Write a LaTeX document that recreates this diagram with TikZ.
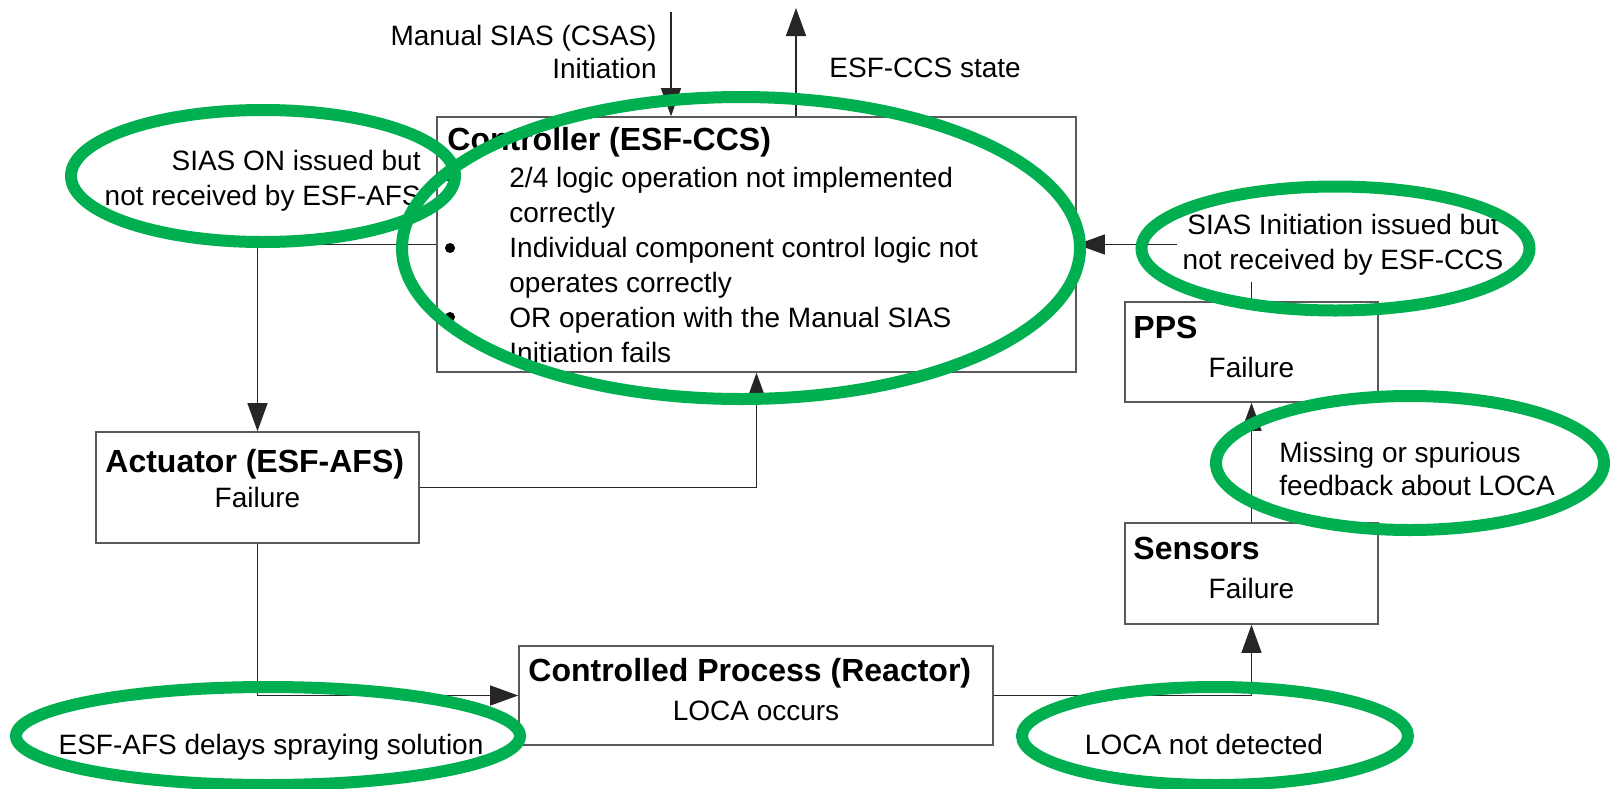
\documentclass[tikz,border=0pt]{standalone}
\usepackage{fontspec}
\setmainfont{Liberation Sans}
\usetikzlibrary{arrows.meta}
\definecolor{hlgreen}{RGB}{0,176,80}
\definecolor{boxgray}{RGB}{90,90,90}
\newcommand\regf{\fontsize{14}{17.5}\selectfont}
\newcommand\bldf{\fontsize{16}{20}\selectfont\bfseries}
\begin{document}
\begin{tikzpicture}[x=0.5pt,y=-0.5pt,
  box/.style={draw=boxgray,line width=0.8pt,rectangle,inner sep=0pt},
  conn/.style={draw=black!85,line width=0.6pt,-{Triangle[length=14pt,width=10pt]}},
  txt/.style={inner sep=0pt,font=\regf,text=black},
  ttl/.style={inner sep=0pt,font=\bldf,text=black,anchor=base west},
  bul/.style={circle,fill=black,inner sep=0pt,minimum size=5pt},
  hl/.style={draw=hlgreen,line width=6pt}]
\useasboundingbox (0,0) rectangle (1618,788);
\fill[white] (0,0) rectangle (1618,788);
% boxes
\node[box,minimum width=319.5pt,minimum height=127.5pt] (ctrl) at (756.5,244.5) {};
\node[box,minimum width=161.5pt,minimum height=55.5pt] (act) at (257.5,487.5) {};
\node[box,minimum width=237pt,minimum height=49.5pt] (cp) at (756,695.5) {};
\node[box,minimum width=126.5pt,minimum height=50pt] (pps) at (1251.5,352) {};
\node[box,minimum width=126.5pt,minimum height=50.5pt] (sens) at (1251.5,573.5) {};
% free ends
\coordinate (man) at (671,12);
\coordinate (st) at (796,8);
% connectors
\draw[conn] (man) -- (man |- ctrl.north);
\draw[conn] (ctrl.north -| st) -- (st);
\draw[conn] (ctrl.west) -| (act.north);
\draw[conn] (act.east) -| (ctrl.south);
\draw[conn] (act.south) |- (cp.west);
\draw[conn] (cp.east) -| (sens.south);
\draw[conn] (sens.north) -- (pps.south);
\draw[conn] (pps.north) |- (ctrl.east);
% texts
\node[txt,anchor=base east] (m1) at (657,45) {Manual SIAS (CSAS)};
\node[txt,anchor=base east] (m2) at (657,78) {Initiation};
\node[txt,anchor=base west] (s1) at (829,77) {ESF-CCS state};
\node[ttl] (ct) at (447,150) {Controller (ESF-CCS)};
\node[bul] (b1) at (450,177) {};
\node[bul] (b2) at (450,248) {};
\node[bul] (b3) at (450,317) {};
\node[txt,anchor=base west] (l1) at (509,187) {2/4 logic operation not implemented};
\node[txt,anchor=base west] (l2) at (509,222) {correctly};
\node[txt,anchor=base west] (l3) at (509,257) {Individual component control logic not};
\node[txt,anchor=base west] (l4) at (509,292) {operates correctly};
\node[txt,anchor=base west] (l5) at (509,327) {OR operation with the Manual SIAS};
\node[txt,anchor=base west] (l6) at (509,362) {Initiation fails};
\node[ttl] (at) at (105,472) {Actuator (ESF-AFS)};
\node[txt,anchor=base] (af) at (257.5,507) {Failure};
\node[ttl] (cpt) at (528,681) {Controlled Process (Reactor)};
\node[txt,anchor=base] (cpf) at (756,720) {LOCA occurs};
\node[ttl] (ppt) at (1133,338) {PPS};
\node[txt,anchor=base] (ppf) at (1251.5,377) {Failure};
\node[ttl] (set) at (1133,559) {Sensors};
\node[txt,anchor=base] (sef) at (1251.5,598) {Failure};
\node[txt,anchor=base east] (e1a) at (421,170) {SIAS ON issued but};
\node[txt,anchor=base east] (e1b) at (421,205) {not received by ESF-AFS};
\node[txt,fill=white,inner sep=3pt,align=center,anchor=north] (e3) at (1343,208) {SIAS Initiation issued but\\not received by ESF-CCS};
\node[txt,anchor=base west] (e4a) at (1279,462) {Missing or spurious};
\node[txt,anchor=base west] (e4b) at (1279,495) {feedback about LOCA};
\node[txt,anchor=base] (e5) at (271,754) {ESF-AFS delays spraying solution};
\node[txt,anchor=base] (e6) at (1204,754) {LOCA not detected};
% highlight ellipses
\draw[hl] (741,248) ellipse[x radius=169.5pt,y radius=75.5pt];
\draw[hl] (263,176) ellipse[x radius=96pt,y radius=33pt];
\draw[hl] (1335.5,248.5) ellipse[x radius=97pt,y radius=31pt];
\draw[hl] (1410,463) ellipse[x radius=97pt,y radius=33.5pt];
\draw[hl] (268,736) ellipse[x radius=126pt,y radius=24.5pt];
\draw[hl] (1215,736) ellipse[x radius=96.5pt,y radius=24.5pt];
\end{tikzpicture}
\end{document}
